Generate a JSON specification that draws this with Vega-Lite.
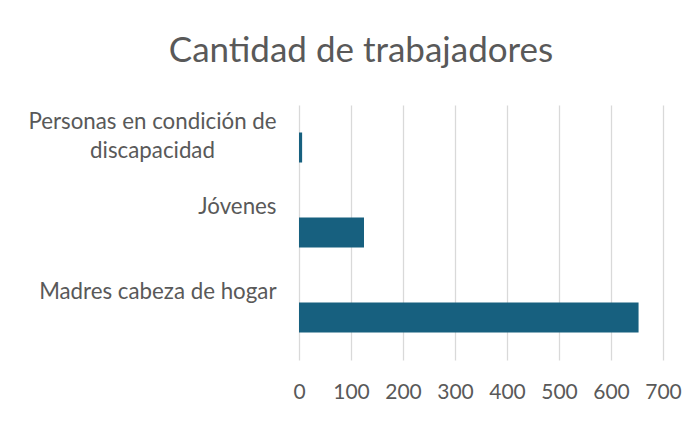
{
  "$schema": "https://vega.github.io/schema/vega-lite/v6.json",
  "width": 364,
  "height": 255,
  "autosize": {"type": "none"},
  "padding": {"left": 299, "top": 105, "right": 36, "bottom": 61},
  "background": "white",
  "config": {"view": {"stroke": null}, "font": "Lato"},
  "title": {
    "text": "Cantidad de trabajadores",
    "font": "Lato",
    "fontSize": 35,
    "fontWeight": "normal",
    "color": "#595959",
    "anchor": "middle",
    "frame": "group",
    "dx": -120,
    "baseline": "alphabetic",
    "offset": 8
  },
  "data": {
    "values": [
      {"categoria": "Personas en condición de discapacidad", "cantidad": 6},
      {"categoria": "Jóvenes", "cantidad": 125},
      {"categoria": "Madres cabeza de hogar", "cantidad": 653}
    ]
  },
  "mark": {"type": "bar", "color": "#17607F"},
  "encoding": {
    "y": {
      "field": "categoria",
      "type": "nominal",
      "sort": null,
      "scale": {"paddingInner": 0.647, "paddingOuter": 0.3235},
      "axis": {
        "title": null,
        "domain": false,
        "ticks": false,
        "grid": false,
        "labelFont": "Lato",
        "labelFontSize": 22.3,
        "labelColor": "#595959",
        "labelLimit": 400,
        "labelLineHeight": 29,
        "labelBaseline": "top",
        "labelOffset": -37,
        "labelExpr": "datum.value == 'Personas en condición de discapacidad' ? ['Personas en condición de', 'discapacidad'] : datum.value",
        "labelAlign": {"expr": "datum.value == 'Personas en condición de discapacidad' ? 'center' : 'right'"},
        "labelPadding": {"expr": "datum.value == 'Personas en condición de discapacidad' ? 147 : 23"}
      }
    },
    "x": {
      "field": "cantidad",
      "type": "quantitative",
      "scale": {"domain": [0, 700]},
      "axis": {
        "title": null,
        "values": [0, 100, 200, 300, 400, 500, 600, 700],
        "domain": false,
        "ticks": false,
        "grid": true,
        "gridColor": "#d9d9d9",
        "gridWidth": 1.3,
        "labelFont": "Lato",
        "labelFontSize": 21,
        "labelColor": "#595959",
        "labelPadding": 21,
        "labelFlush": false
      }
    }
  }
}
